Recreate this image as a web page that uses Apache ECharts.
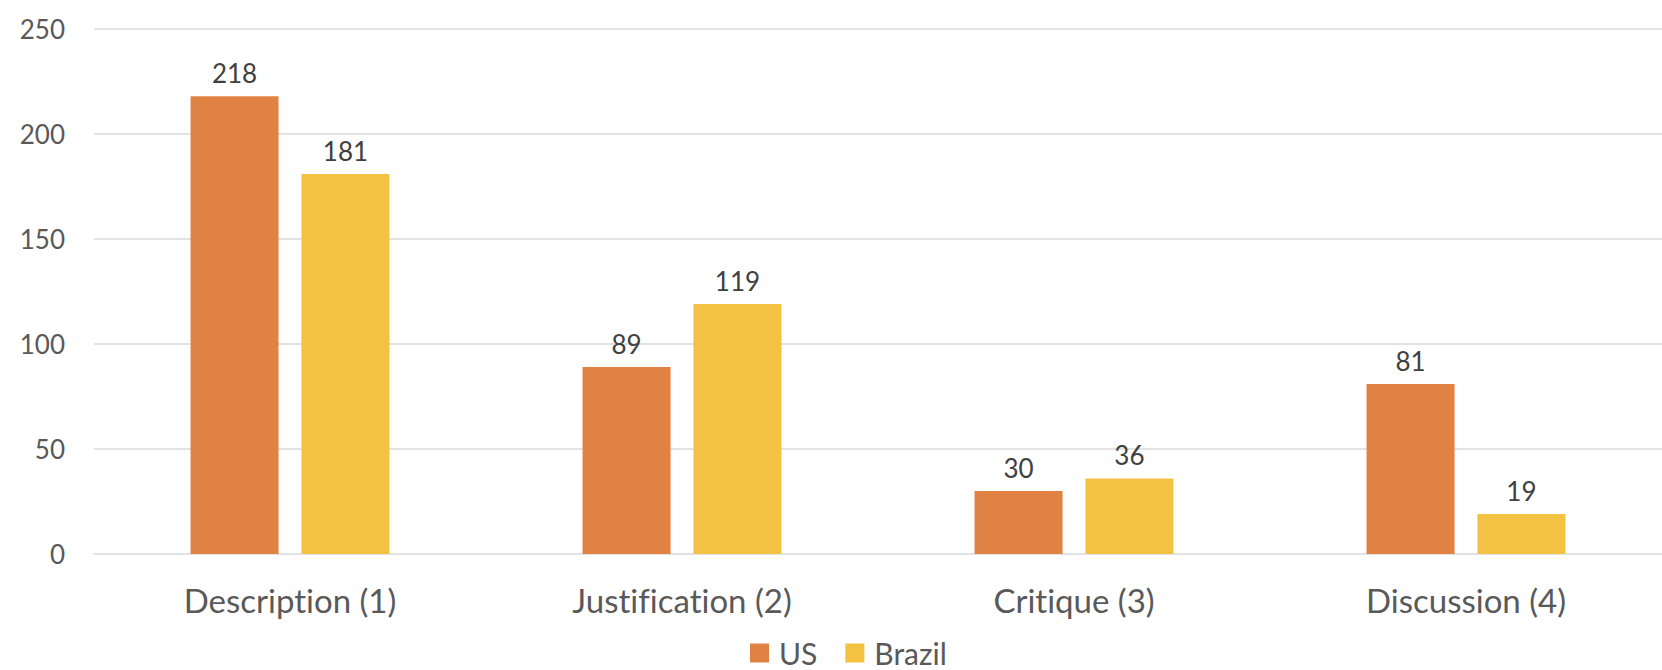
<!DOCTYPE html>
<html>
<head>
<meta charset="utf-8">
<script src="https://cdn.jsdelivr.net/npm/echarts@6/dist/echarts.min.js"></script>
<style>
  html, body { margin: 0; padding: 0; background: #ffffff; }
  #chart { width: 1662px; height: 670px; }
  #chart text { font-variant-ligatures: none; font-feature-settings: "liga" 0, "clig" 0; }
</style>
</head>
<body>
<div id="chart"></div>
<script>
// Counts of comments per argumentation level, by country
const categories = ['Description (1)', 'Justification (2)', 'Critique (3)', 'Discussion (4)'];
const usValues = [218, 89, 30, 81];
const brazilValues = [181, 119, 36, 19];
const yTicks = { min: 0, max: 250, interval: 50 };

const textColor = '#595959';
const valueColor = '#404040';
const gridColor = '#e3e3e3';
const fontFamily = 'Lato, "Open Sans", sans-serif';

const chart = echarts.init(document.getElementById('chart'), null, { renderer: 'svg' });

const labelStyle = {
  show: true,
  position: 'top',
  distance: 10,
  color: valueColor,
  fontSize: 26,
  fontFamily: fontFamily
};

chart.setOption({
  animation: false,
  backgroundColor: '#ffffff',
  grid: { left: 94, right: 0, top: 29, bottom: 116, containLabel: false },
  legend: {
    data: ['US', 'Brazil'],
    left: 745,
    top: 633,
    itemWidth: 19,
    itemHeight: 19,
    itemGap: 28,
    icon: 'rect',
    textStyle: { color: textColor, fontSize: 30, fontFamily: fontFamily, padding: [0, 0, 0, 5] }
  },
  xAxis: {
    type: 'category',
    data: categories,
    axisLine: { show: true, lineStyle: { color: gridColor, width: 2 } },
    axisTick: { show: false },
    axisLabel: { color: textColor, fontSize: 33, fontFamily: fontFamily, margin: 29 }
  },
  yAxis: {
    type: 'value',
    min: yTicks.min,
    max: yTicks.max,
    interval: yTicks.interval,
    axisLine: { show: false },
    axisTick: { show: false },
    splitLine: { lineStyle: { color: gridColor, width: 2 } },
    axisLabel: { color: textColor, fontSize: 26, fontFamily: fontFamily, margin: 29 }
  },
  series: [
    {
      name: 'US',
      type: 'bar',
      data: usValues,
      barWidth: 88,
      barGap: '26%',
      itemStyle: { color: '#df8244' },
      label: labelStyle
    },
    {
      name: 'Brazil',
      type: 'bar',
      data: brazilValues,
      barWidth: 88,
      itemStyle: { color: '#f4c242' },
      label: labelStyle
    }
  ]
});
</script>
</body>
</html>
